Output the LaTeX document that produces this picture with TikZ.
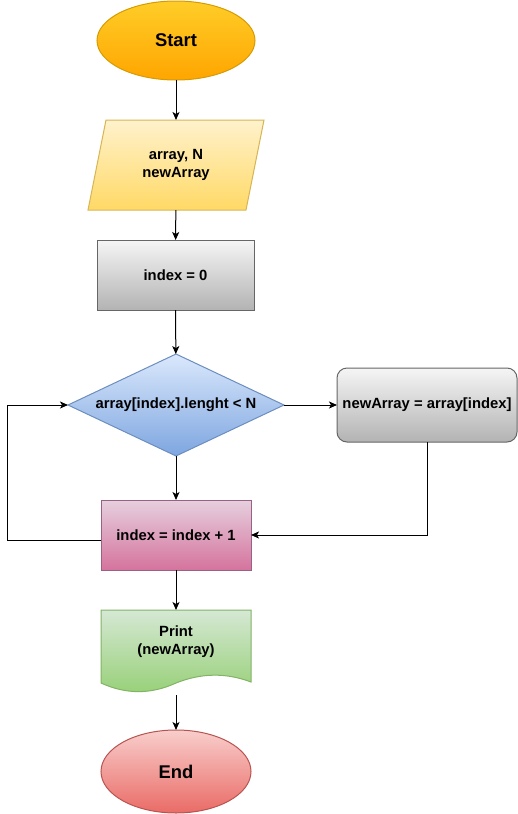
\documentclass[tikz,border=0pt]{standalone}
\usepackage{fontspec}
\setmainfont{Liberation Sans}
\usetikzlibrary{shapes.geometric,arrows.meta}
\definecolor{startA}{HTML}{FFCD28}
\definecolor{startB}{HTML}{FFA500}
\definecolor{startS}{HTML}{D79B00}
\definecolor{inA}{HTML}{FFF2CC}
\definecolor{inB}{HTML}{FFD966}
\definecolor{inS}{HTML}{D6B656}
\definecolor{grA}{HTML}{F5F5F5}
\definecolor{grB}{HTML}{B3B3B3}
\definecolor{grS}{HTML}{666666}
\definecolor{blA}{HTML}{DAE8FC}
\definecolor{blB}{HTML}{7EA6E0}
\definecolor{blS}{HTML}{6C8EBF}
\definecolor{pkA}{HTML}{E6D0DE}
\definecolor{pkB}{HTML}{D5739D}
\definecolor{pkS}{HTML}{996185}
\definecolor{gnA}{HTML}{D5E8D4}
\definecolor{gnB}{HTML}{97D077}
\definecolor{gnS}{HTML}{82B366}
\definecolor{rdA}{HTML}{F8CECC}
\definecolor{rdB}{HTML}{EA6B66}
\definecolor{rdS}{HTML}{B85450}
\begin{document}
\begin{tikzpicture}[x=1pt,y=-1pt,
  every node/.style={font=\fontsize{14.8}{18}\selectfont\bfseries, align=center, inner sep=0pt, outer sep=0pt},
  bigtext/.style={font=\fontsize{18.4}{22}\selectfont\bfseries},
  conn/.style={draw=black, line width=1pt, -{Stealth[length=8pt,width=7pt,inset=2pt]}},
  shp/.style={line width=1pt}]
\useasboundingbox (0,0) rectangle (518,814);
% Start
\node[ellipse, shp, minimum width=158, minimum height=79, top color=startA, bottom color=startB, draw=startS, bigtext] (start) at (176,40.5) {Start};
% Input parallelogram
\shade[top color=inA, bottom color=inB, draw=inS, shp] (106,120) -- (264,120) -- (246,210) -- (88,210) -- cycle;
\node[minimum width=176, minimum height=90] (inp) at (176,165) {array, N\\newArray};
% init
\node[rectangle, shp, minimum width=157, minimum height=70, top color=grA, bottom color=grB, draw=grS] (init) at (175.5,275) {index = 0};
% condition
\node[diamond, shp, aspect=2.1, minimum width=216, minimum height=102, top color=blA, bottom color=blB, draw=blS] (cond) at (176,405) {array[index].lenght < N};
% assign
\node[rectangle, rounded corners=10pt, shp, minimum width=180, minimum height=74, top color=grA, bottom color=grB, draw=grS] (assign) at (427,405) {newArray = array[index]};
% increment
\node[rectangle, shp, minimum width=150, minimum height=70, top color=pkA, bottom color=pkB, draw=pkS] (inc) at (176,535) {index = index + 1};
% document
\shade[top color=gnA, bottom color=gnB, draw=gnS, shp] (101,610) -- (251,610) -- (251,682)
  .. controls (226,672.5) and (201,673) .. (176,683)
  .. controls (151,694.5) and (126,694.5) .. (101,683) -- cycle;
\node[minimum width=150, minimum height=84] (doc) at (176,652) {};
\node (doclabel) at (176,641.5) {Print\\(newArray)};
% End
\node[ellipse, shp, minimum width=150, minimum height=83, top color=rdA, bottom color=rdB, draw=rdS, bigtext] (end) at (176,771.5) {End};
% connectors
\draw[conn] (start) -- (inp);
\draw[conn] (inp) -- (init);
\draw[conn] (init) -- (cond);
\draw[conn] (cond.east) -- (assign.west);
\draw[conn] (cond.south) -- (inc.north);
\draw[conn] (assign.south) |- (inc.east);
\coordinate (loopc) at (7,405);
\draw[conn] ([yshift=-5pt]inc.west) -| (loopc) -- (cond.west);
\draw[conn] (inc) -- (doc);
\draw[conn] ([yshift=-1pt]doc.south) -- (end);
\end{tikzpicture}
\end{document}
